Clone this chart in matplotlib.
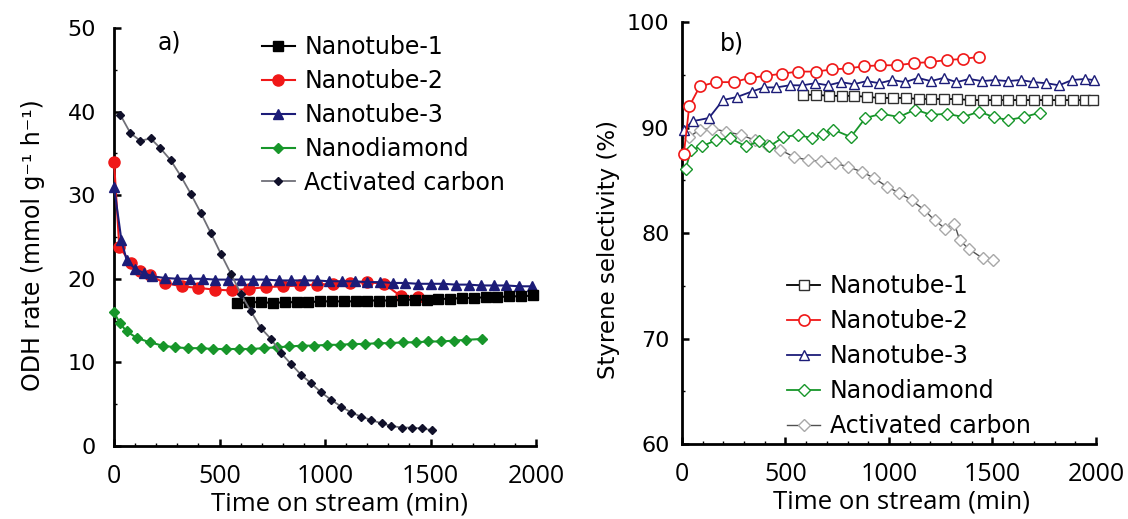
import matplotlib.pyplot as plt
from matplotlib.ticker import MultipleLocator

# ---- panel a) ODH rate ----
t_nt1 = [585, 641, 697, 753, 809, 865, 921, 977, 1033, 1089, 1145, 1201, 1257,
         1313, 1369, 1425, 1481, 1537, 1593, 1649, 1705, 1761, 1817, 1873, 1929, 1985]
r_nt1 = [17.1, 17.2, 17.2, 17.1, 17.2, 17.2, 17.2, 17.3, 17.3, 17.3, 17.3, 17.4, 17.4,
         17.4, 17.5, 17.5, 17.5, 17.6, 17.6, 17.7, 17.7, 17.8, 17.8, 17.9, 17.9, 18.0]

t_nt2 = [0, 25, 80, 125, 170, 240, 320, 400, 480, 560, 640, 720, 800, 880, 960,
         1040, 1120, 1200, 1280, 1360, 1440]
r_nt2 = [34.0, 23.8, 21.9, 20.9, 20.4, 19.5, 19.1, 18.9, 18.7, 18.6, 18.8, 19.0, 19.1,
         19.2, 19.3, 19.4, 19.5, 19.6, 19.4, 17.9, 17.8]

t_nt3 = [0, 35, 60, 100, 140, 180, 240, 300, 360, 420, 480, 540, 600, 660, 720, 780,
         840, 900, 960, 1020, 1080, 1140, 1200, 1260, 1320, 1380, 1440, 1500, 1560,
         1620, 1680, 1740, 1800, 1860, 1920, 1980]
r_nt3 = [31.0, 24.6, 22.2, 21.2, 20.7, 20.3, 20.1, 20.0, 20.0, 20.0, 19.9, 19.9, 19.9,
         19.9, 19.9, 19.8, 19.8, 19.8, 19.8, 19.7, 19.7, 19.7, 19.6, 19.6, 19.5, 19.5,
         19.4, 19.4, 19.4, 19.3, 19.3, 19.2, 19.2, 19.2, 19.1, 19.1]

t_nd = [0, 27, 60, 110, 170, 230, 290, 350, 410, 470, 530, 590, 650, 710, 770, 830,
        890, 950, 1010, 1070, 1130, 1190, 1250, 1310, 1370, 1430, 1490, 1550, 1610,
        1670, 1745]
r_nd = [16.0, 14.7, 13.7, 12.9, 12.4, 12.0, 11.8, 11.7, 11.7, 11.6, 11.6, 11.6, 11.6,
        11.7, 11.8, 11.9, 12.0, 12.0, 12.1, 12.1, 12.2, 12.2, 12.3, 12.3, 12.4, 12.4,
        12.5, 12.5, 12.6, 12.7, 12.8]

t_ac = [30, 78, 125, 173, 220, 268, 316, 363, 411, 458, 506, 554, 601, 649, 696, 744,
        792, 839, 887, 934, 982, 1030, 1077, 1125, 1172, 1220, 1268, 1315, 1363, 1410,
        1458, 1506]
r_ac = [39.6, 37.4, 36.5, 36.8, 35.6, 34.2, 32.3, 30.2, 27.9, 25.5, 23.0, 20.6, 18.2,
        16.1, 14.1, 12.8, 11.1, 9.8, 8.5, 7.5, 6.4, 5.5, 4.7, 4.0, 3.5, 3.1, 2.7, 2.4,
        2.2, 2.2, 2.1, 1.9]

# ---- panel b) styrene selectivity ----
ts_nt1 = [585, 647, 709, 771, 833, 895, 957, 1019, 1081, 1143, 1205, 1267, 1329, 1391,
          1453, 1515, 1577, 1639, 1701, 1763, 1825, 1887, 1949, 1985]
s_nt1 = [93.1, 93.1, 93.0, 93.0, 93.0, 92.9, 92.8, 92.8, 92.8, 92.7, 92.7, 92.7, 92.7,
         92.6, 92.6, 92.6, 92.6, 92.6, 92.6, 92.6, 92.6, 92.6, 92.6, 92.6]

ts_nt2 = [9, 35, 86, 164, 250, 327, 406, 483, 560, 646, 723, 801, 878, 955, 1041,
          1119, 1196, 1282, 1359, 1437]
s_nt2 = [87.5, 92.0, 93.9, 94.3, 94.3, 94.7, 94.9, 95.1, 95.3, 95.3, 95.5, 95.6, 95.8,
         95.9, 95.9, 96.1, 96.2, 96.4, 96.5, 96.7]

ts_nt3 = [9, 52, 130, 198, 267, 336, 396, 456, 520, 582, 644, 706, 768, 830, 892, 954,
          1016, 1078, 1140, 1202, 1264, 1326, 1388, 1450, 1512, 1574, 1636, 1698, 1760,
          1822, 1884, 1946, 1990]
s_nt3 = [89.8, 90.6, 90.9, 92.6, 92.9, 93.4, 93.8, 93.8, 94.0, 94.0, 94.2, 94.0, 94.3,
         94.1, 94.4, 94.2, 94.5, 94.3, 94.7, 94.4, 94.7, 94.3, 94.6, 94.4, 94.5, 94.4,
         94.5, 94.3, 94.2, 94.0, 94.5, 94.6, 94.5]

ts_nd = [18, 44, 95, 164, 232, 309, 370, 422, 490, 559, 628, 680, 731, 816, 886, 963,
         1049, 1126, 1204, 1281, 1358, 1436, 1505, 1575, 1652, 1729]
s_nd = [86.1, 87.9, 88.2, 88.8, 89.0, 88.2, 88.7, 88.2, 89.1, 89.3, 89.0, 89.4, 89.8,
        89.1, 90.9, 91.3, 91.0, 91.7, 91.2, 91.3, 91.0, 91.5, 91.0, 90.7, 91.0, 91.4]

ts_ac = [35, 86, 146, 215, 284, 353, 413, 473, 542, 611, 671, 740, 800, 869, 929, 989,
         1049, 1109, 1170, 1221, 1273, 1316, 1342, 1385, 1453, 1504]
s_ac = [89.1, 89.8, 89.9, 89.6, 89.3, 88.8, 88.3, 87.9, 87.2, 86.9, 86.8, 86.6, 86.3,
        85.8, 85.2, 84.4, 83.8, 83.1, 82.2, 81.2, 80.4, 80.9, 79.3, 78.5, 77.6, 77.4]

names = ['Nanotube-1', 'Nanotube-2', 'Nanotube-3', 'Nanodiamond', 'Activated carbon']

SANS = 'DejaVu Sans'
CALIBRI = 'Open Sans'
RED = '#f01818'
NAVY = '#1c1c78'
GREEN = '#17962a'

plt.rcParams['font.family'] = SANS

fig = plt.figure(figsize=(11.28, 5.19), dpi=100)
ax1 = fig.add_axes([0.1011, 0.1407, 0.3741, 0.8054])
ax2 = fig.add_axes([0.6046, 0.1445, 0.3670, 0.8131])


def style_axis(ax, ylo, yhi, ypad, xlab_x):
    ax.set_xlim(0, 2000)
    ax.set_ylim(ylo, yhi)
    for s in ['top', 'right']:
        ax.spines[s].set_visible(False)
    for s in ['left', 'bottom']:
        ax.spines[s].set_linewidth(2)
    ax.xaxis.set_major_locator(MultipleLocator(500))
    ax.xaxis.set_minor_locator(MultipleLocator(100))
    ax.yaxis.set_major_locator(MultipleLocator(10))
    ax.yaxis.set_minor_locator(MultipleLocator(5))
    ax.tick_params(which='major', direction='in', length=5, width=1.8)
    ax.tick_params(which='minor', direction='in', length=2.5, width=1)
    ax.tick_params(axis='x', which='major', pad=13)
    ax.tick_params(axis='y', which='major', pad=ypad, labelsize=16)
    for lab in ax.get_xticklabels():
        lab.set_family(CALIBRI)
        lab.set_fontsize(18)
    ax.set_xlabel('Time on stream (min)', family=CALIBRI, fontsize=18.5)
    ax.xaxis.set_label_coords(xlab_x, -0.108)


# panel a
ax1.plot(t_nt2, r_nt2, '-o', color=RED, ms=8, lw=1.5, label=names[1], clip_on=False, zorder=3)
ax1.plot(t_nt3, r_nt3, '-^', color=NAVY, ms=7, lw=1.5, label=names[2], clip_on=False, zorder=4)
ax1.plot(t_nt1, r_nt1, '-s', color='black', ms=7, lw=1.5, label=names[0], clip_on=False, zorder=5)
ax1.plot(t_nd, r_nd, '-D', color=GREEN, ms=5.5, lw=1.5, label=names[3], clip_on=False, zorder=3)
ax1.plot(t_ac, r_ac, '-D', color='#707078', mfc='#10102a', mec='#10102a', ms=4.5, lw=1.3,
         label=names[4], clip_on=False, zorder=6)
style_axis(ax1, 0, 50, 13, 0.535)
ax1.set_ylabel('ODH rate (mmol g⁻¹ h⁻¹)', fontsize=17)
ax1.yaxis.set_label_coords(-0.163, 0.48)
ax1.text(0.13, 0.965, 'a)', transform=ax1.transAxes, fontsize=17, ha='center', va='center')
h, l = ax1.get_legend_handles_labels()
order = [2, 0, 1, 3, 4]
ax1.legend([h[i] for i in order], [l[i] for i in order], loc='upper left',
           bbox_to_anchor=(0.35, 0.983), frameon=False, fontsize=17, handlelength=1.4,
           handletextpad=0.4, labelspacing=0.42, borderpad=0, borderaxespad=0)

# panel b
ax2.plot(ts_ac, s_ac, '-D', color='#505050', mfc='white', mec='#a8a8a8', ms=6, lw=1,
         mew=1, label=names[4], clip_on=False, zorder=2)
ax2.plot(ts_nd, s_nd, '-D', color=GREEN, mfc='white', mec=GREEN, ms=6, lw=1.3,
         mew=1, label=names[3], clip_on=False, zorder=3)
ax2.plot(ts_nt1, s_nt1, '-s', color='black', mfc='white', mec='#303030', ms=7, lw=1.3,
         mew=1, label=names[0], clip_on=False, zorder=4)
ax2.plot(ts_nt3, s_nt3, '-^', color=NAVY, mfc='white', mec=NAVY, ms=7, lw=1.3,
         mew=1, label=names[2], clip_on=False, zorder=5)
ax2.plot(ts_nt2, s_nt2, '-o', color=RED, mfc='white', mec=RED, ms=8, lw=1.3,
         mew=1.2, label=names[1], clip_on=False, zorder=6)
style_axis(ax2, 60, 100, 9, 0.531)
ax2.set_ylabel('Styrene selectivity (%)', fontsize=16.5)
ax2.yaxis.set_label_coords(-0.150, 0.46)
ax2.text(0.12, 0.95, 'b)', transform=ax2.transAxes, fontsize=17, ha='center', va='center')
h, l = ax2.get_legend_handles_labels()
order = [2, 4, 3, 1, 0]
ax2.legend([h[i] for i in order], [l[i] for i in order], loc='upper left',
           bbox_to_anchor=(0.254, 0.403), frameon=False, fontsize=17, handlelength=1.4,
           handletextpad=0.4, labelspacing=0.47, borderpad=0, borderaxespad=0)

fig.savefig('out.png', dpi=100)
